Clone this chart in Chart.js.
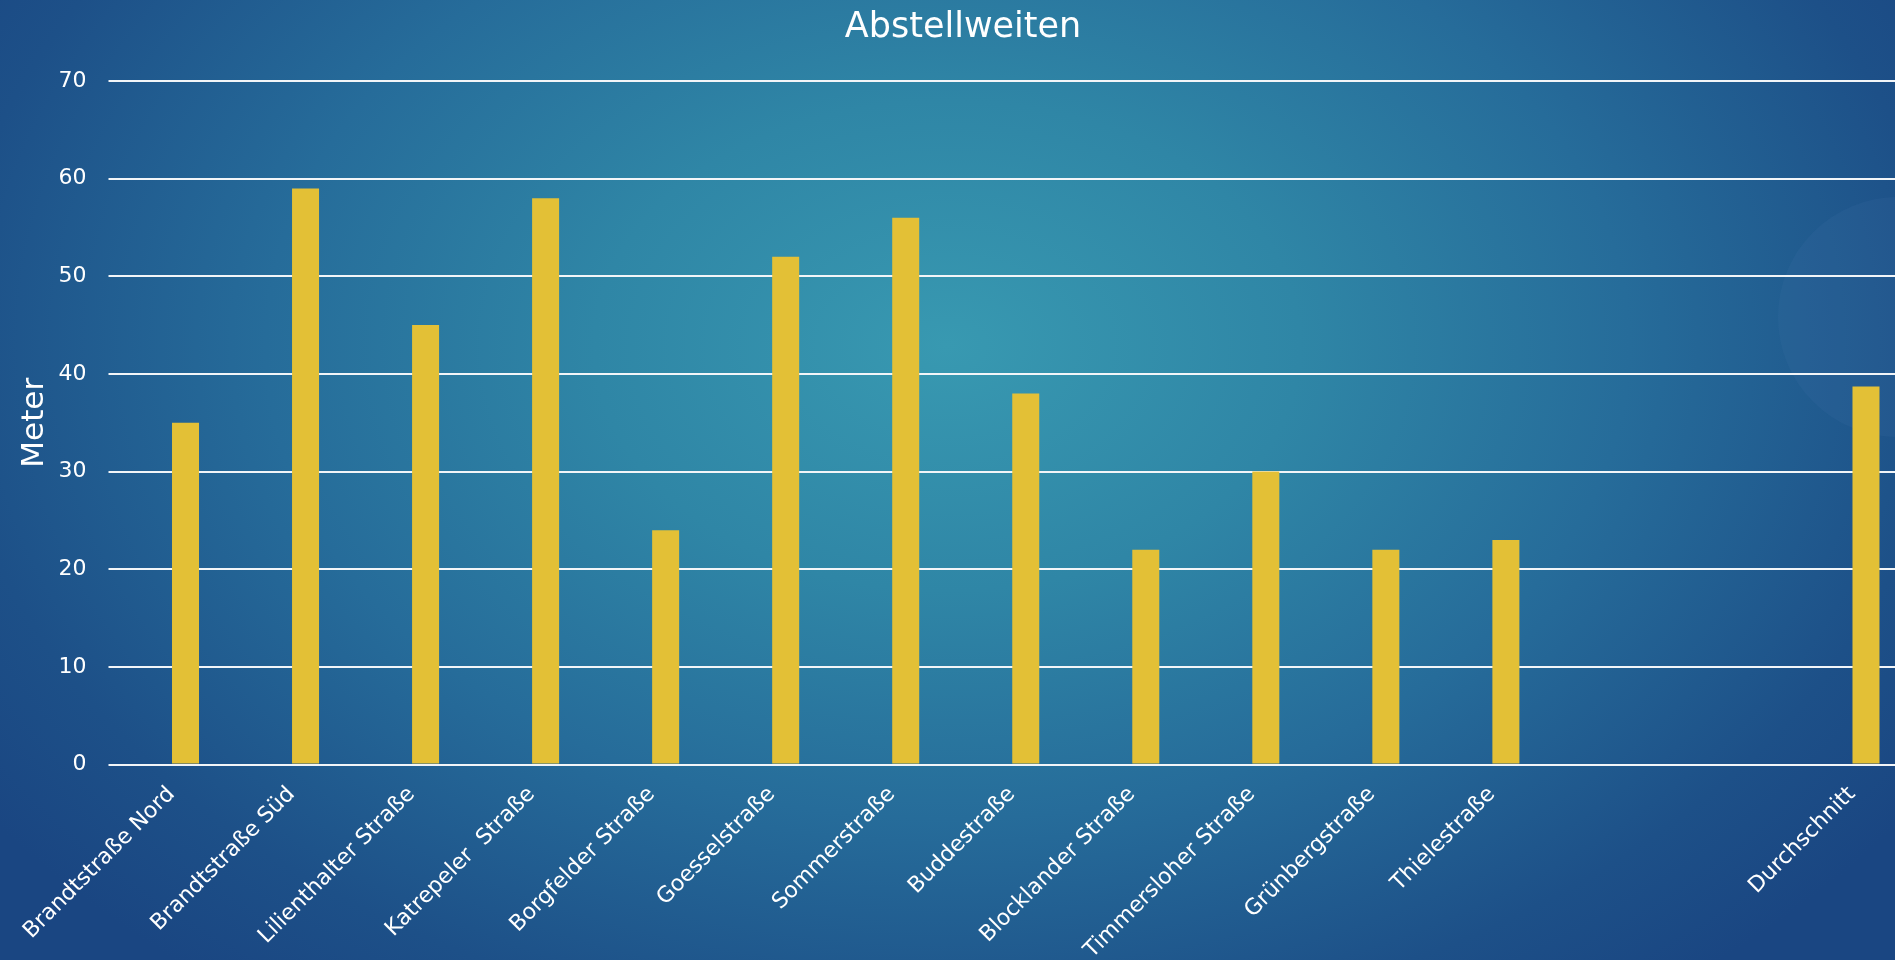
<!DOCTYPE html>
<html>
<head>
<meta charset="utf-8">
<script src="https://cdn.jsdelivr.net/npm/chart.js@4/dist/chart.umd.min.js"></script>
<style>
  html, body { margin: 0; padding: 0; width: 1895px; height: 960px; overflow: hidden; }
  body {
    background: radial-gradient(ellipse 62% 85% at 50% 36%, #3899b1 0%, #2f86a6 30%, #266c9a 58%, #1d5088 85%, #1a4682 100%);
    position: relative;
  }
  #deco {
    position: absolute; left: 1778px; top: 197px; width: 240px; height: 240px;
    border-radius: 50%; background: rgba(90, 130, 185, 0.09);
  }
  #wrap { position: absolute; left: 0; top: 0; width: 1926px; height: 960px; }
</style>
</head>
<body>
<div id="deco"></div>
<div id="wrap"><canvas id="c"></canvas></div>
<script>
const categories = [
  'Brandtstraße Nord', 'Brandtstraße Süd', 'Lilienthalter Straße', 'Katrepeler  Straße',
  'Borgfelder Straße', 'Goesselstraße', 'Sommerstraße', 'Buddestraße',
  'Blocklander Straße', 'Timmersloher Straße', 'Grünbergstraße', 'Thielestraße',
  '', '', 'Durchschnitt'
];
const meterValues = [35, 59, 45, 58, 24, 52, 56, 38, 22, 30, 22, 23, null, null, 38.7];
const yTicks = [0, 10, 20, 30, 40, 50, 60, 70];
const chartTitle = 'Abstellweiten';
const yAxisTitle = 'Meter';

const FONT = "'DejaVu Sans', sans-serif";
Chart.defaults.font.family = FONT;
Chart.defaults.color = '#ffffff';

new Chart(document.getElementById('c'), {
  type: 'bar',
  data: {
    labels: categories,
    datasets: [{
      label: yAxisTitle,
      data: meterValues,
      backgroundColor: '#e3c036',
      borderWidth: 0,
      categoryPercentage: 1,
      barPercentage: 0.225
    }]
  },
  options: {
    responsive: true,
    maintainAspectRatio: false,
    animation: false,
    layout: { padding: 0 },
    plugins: {
      legend: { display: false },
      tooltip: { enabled: false },
      title: {
        display: true,
        text: chartTitle,
        color: '#ffffff',
        font: { size: 35, weight: 'normal', family: FONT },
        padding: { top: 7, bottom: 32 }
      }
    },
    scales: {
      x: {
        grid: { display: false, drawTicks: false },
        border: { display: false },
        ticks: {
          color: '#ffffff',
          font: { size: 22, family: FONT },
          minRotation: 45,
          maxRotation: 45,
          autoSkip: false,
          padding: 17,
          labelOffset: -14
        },
        afterFit(scale) { scale.height = 195.5; }
      },
      y: {
        min: 0,
        max: 70,
        afterBuildTicks(scale) { scale.ticks = yTicks.map(v => ({ value: v })); },
        grid: { color: '#f2f5f8', lineWidth: 2, tickLength: 17, drawTicks: true, tickColor: '#f2f5f8' },
        border: { display: false },
        ticks: {
          color: '#ffffff',
          font: { size: 22, family: FONT },
          padding: 22
        },
        title: {
          display: true,
          text: yAxisTitle,
          color: '#ffffff',
          font: { size: 31, family: FONT },
          padding: { top: 16, bottom: 0 }
        },
        afterFit(scale) { scale.width = 125.5; }
      }
    }
  }
});
</script>
</body>
</html>
